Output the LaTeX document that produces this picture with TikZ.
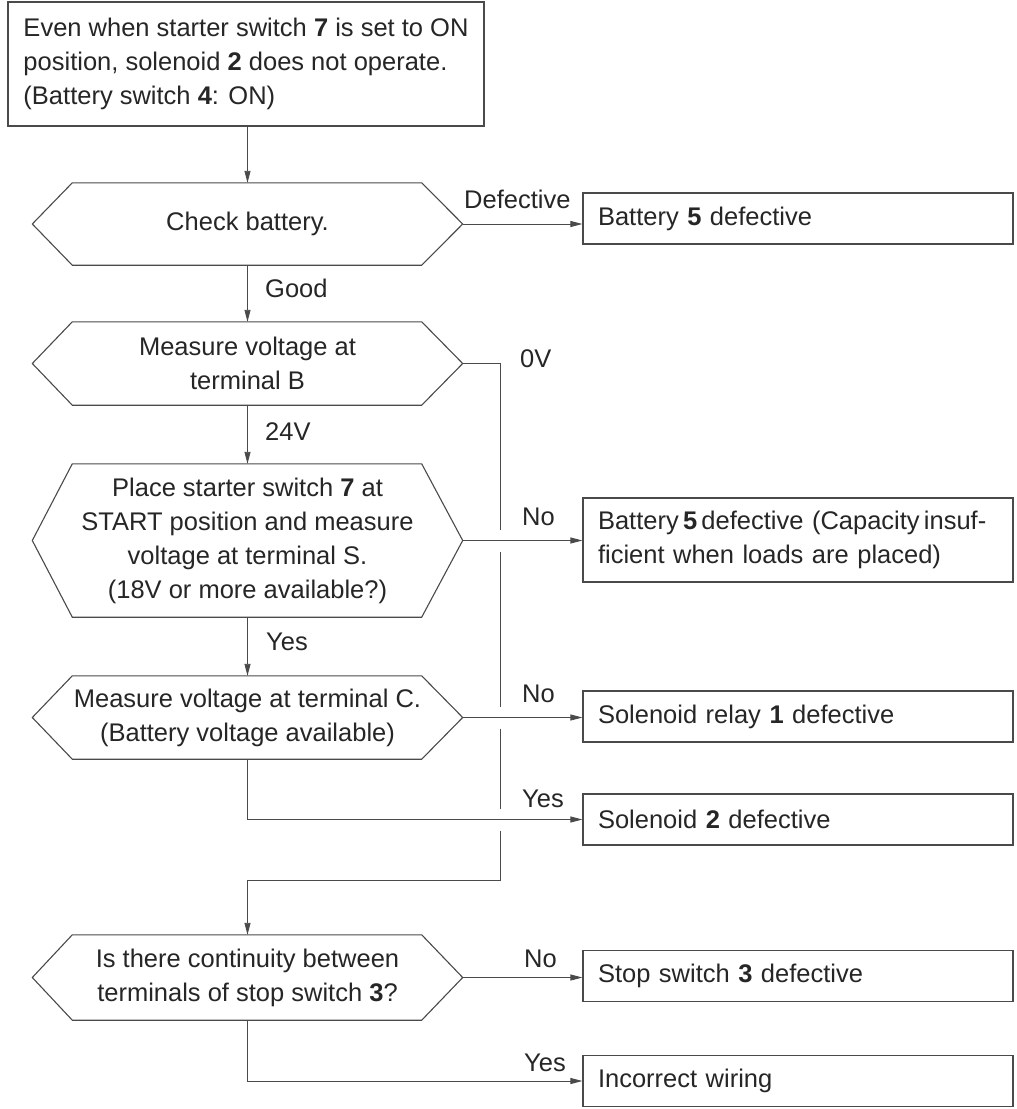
\documentclass[tikz,border=0pt]{standalone}
\usepackage{fontspec}
\setmainfont{Liberation Sans}
\usetikzlibrary{arrows.meta}
\definecolor{txt}{HTML}{262626}
\definecolor{ln}{HTML}{4A4A4A}
\newcommand\hexdraw[1]{\draw[draw=ln, line width=1.1pt, line join=miter] (#1.west) -- ([xshift=40pt]#1.north west) -- ([xshift=-41pt]#1.north east) -- (#1.east) -- ([xshift=-41pt]#1.south east) -- ([xshift=40pt]#1.south west) -- cycle;}
\begin{document}
\begin{tikzpicture}[x=1pt,y=-1pt,
  font=\fontsize{25.5}{34}\selectfont,
  hexnode/.style={draw=none, minimum width=430pt, inner sep=0pt, align=center, text=txt},
  topbox/.style={draw=ln, line width=2pt, minimum width=476pt, minimum height=124pt, align=left, text=txt, inner sep=0pt},
  outbox/.style={draw=ln, line width=1.2pt, minimum height=51pt, text width=400pt, inner xsep=15pt, inner ysep=0pt, align=left, text=txt},
  lbl/.style={text=txt, inner sep=0pt, anchor=base west},
  arr/.style={draw=ln, line width=0.9pt, -{Triangle[length=12pt,width=6pt]}},
  wire/.style={draw=ln, line width=0.9pt}
]
\useasboundingbox (0,0) rectangle (1017,1109);
\fill[white] (0,0) rectangle (1017,1109);

% start box
\node[topbox] (top) at (246,64) {Even when starter switch \textbf{7} is set to ON\\position, solenoid \textbf{2} does not operate.\\(Battery switch \textbf{4}: ON)};

% decision hexagons
\node[hexnode, minimum height=82pt] (chk) at (247.5,224) {Check battery.};
\node[hexnode, minimum height=83pt] (mb) at (247.5,363.5) {Measure voltage at\\terminal B};
\node[hexnode, minimum height=153pt] (ps) at (247.5,540.5) {Place starter switch \textbf{7} at\\START position and measure\\voltage at terminal S.\\(18V or more available?)};
\node[hexnode, minimum height=83pt] (mc) at (247.5,717.5) {Measure voltage at terminal C.\\(Battery voltage available)};
\node[hexnode, minimum height=85pt] (st) at (247.5,977.5) {Is there continuity between\\terminals of stop switch \textbf{3}?};
\hexdraw{chk}
\hexdraw{mb}
\hexdraw{ps}
\hexdraw{mc}
\hexdraw{st}

% result boxes
\node[outbox] (b1) at (798,218.5) {Battery \textbf{5} defective};
\node[outbox, minimum height=84pt] (b2) at (798,540) {\mbox{Battery\,\textbf{5}\,defective (Capacity\,insuf-}\\ficient when loads are placed)};
\node[outbox] (b3) at (798,716.5) {Solenoid relay \textbf{1} defective};
\node[outbox] (b4) at (798,819.5) {Solenoid \textbf{2} defective};
\node[outbox] (b5) at (798,976) {Stop switch \textbf{3} defective};
\node[outbox] (b6) at (798,1081) {Incorrect wiring};

% main flow
\draw[arr] (top.south -| chk.north) -- (chk.north);
\draw[arr] (chk.south) -- (mb.north);
\draw[arr] (mb.south) -- (ps.north);
\draw[arr] (ps.south) -- (mc.north);

% side branches
\draw[arr] (chk.east) -- (chk.east -| b1.west);
\draw[arr] (ps.east) -- (ps.east -| b2.west);
\draw[arr] (mc.east) -- (mc.east -| b3.west);
\draw[arr] (mc.south) |- (b4.west);
\draw[arr] (st.east) -- (st.east -| b5.west);
\draw[arr] (st.south) |- (b6.west);

% 0V bypass line with gaps at crossings
\coordinate (v0) at (500.5,363.5);
\coordinate (v1) at (500.5,880);
\draw[wire] (mb.east) -- (v0) -- ([yshift=11pt]v0 |- ps.east);
\draw[wire] ([yshift=-11pt]v0 |- ps.east) -- ([yshift=11pt]v0 |- mc.east);
\draw[wire] ([yshift=-11pt]v0 |- mc.east) -- ([yshift=11pt]v0 |- b4.west);
\draw[arr] ([yshift=-11pt]v0 |- b4.west) -- (v1) -| (st.north);

% labels
\node[lbl] (ldef) at (464,208) {Defective};
\node[lbl] (lgood) at (265,297) {Good};
\node[lbl] (l0v) at (520,367) {0V};
\node[lbl] (l24) at (265,440) {24V};
\node[lbl] (lno1) at (522,525) {No};
\node[lbl] (lyes1) at (266,650) {Yes};
\node[lbl] (lno2) at (522,702) {No};
\node[lbl] (lyes2) at (522,807) {Yes};
\node[lbl] (lno3) at (524,967) {No};
\node[lbl] (lyes3) at (524,1071) {Yes};
\end{tikzpicture}
\end{document}
